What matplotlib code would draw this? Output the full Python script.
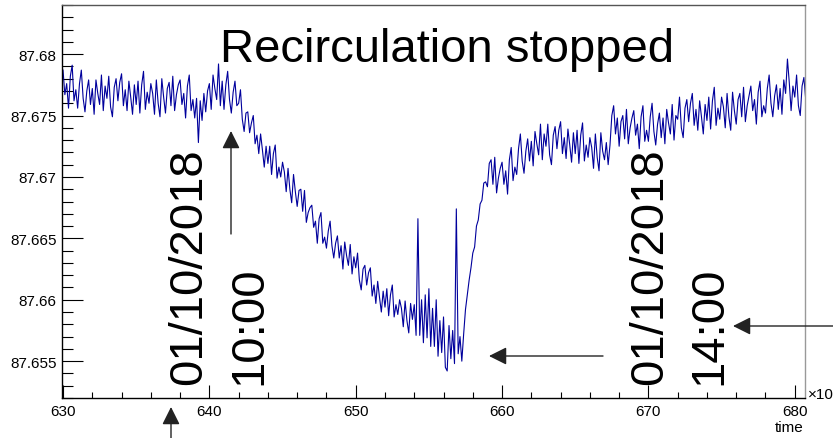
"""
Pressure/temperature reading vs time, showing the dip when recirculation stopped.
"""

import numpy as np
import matplotlib.pyplot as plt
from matplotlib.ticker import MultipleLocator, FuncFormatter

plt.rcParams['font.family'] = ['Liberation Sans', 'DejaVu Sans']

# Sample times (x10^3), one reading every 0.125
time_start = 630.0
time_step = 0.125

# Readings, in units of 1e-4 above 87.65 (eight per time unit)
reading_offset = [
    287, 267, 276, 256, 282, 291, 262, 271,   # 630
    256, 276, 287, 264, 253, 270, 279, 259,   # 631
    272, 251, 279, 268, 259, 283, 254, 274,   # 632
    264, 282, 257, 249, 273, 280, 262, 277,   # 633
    284, 258, 271, 254, 278, 265, 251, 275,   # 634
    259, 278, 252, 275, 286, 255, 269, 260,   # 635
    276, 268, 251, 279, 260, 249, 280, 265,   # 636
    252, 272, 277, 258, 282, 254, 267, 275,   # 637
    279, 259, 268, 248, 274, 283, 254, 263,   # 638
    248, 264, 228, 262, 246, 268, 253, 270,   # 639
    276, 255, 283, 272, 263, 292, 258, 278,   # 640
    255, 275, 286, 263, 252, 269, 278, 258,   # 641
    260, 271, 247, 237, 252, 253, 236, 244,   # 642
    250, 227, 234, 219, 235, 222, 208, 225,   # 643
    211, 225, 202, 219, 226, 199, 208, 200,   # 644
    212, 204, 188, 207, 190, 179, 202, 188,   # 645
    176, 189, 190, 172, 189, 163, 171, 175,   # 646
    177, 159, 164, 146, 166, 171, 146, 151,   # 647
    142, 156, 164, 144, 134, 146, 152, 134,   # 648
    144, 125, 147, 136, 128, 145, 121, 135,   # 649
    126, 138, 116, 108, 125, 128, 112, 122,   # 650
    126, 103, 112, 97, 115, 102, 90, 107,     # 651
    94, 109, 87, 104, 112, 86, 96, 88,        # 652
    100, 93, 78, 99, 83, 73, 97, 84,          # 653
    96, 71, 166, 71, 100, 65, 104, 69,        # 654
    109, 62, 93, 62, 100, 54, 83, 57,         # 655
    86, 45, 42, 79, 52, 75, 48, 174,          # 656
    56, 70, 50, 72, 92, 104, 116, 126,        # 657
    138, 143, 160, 165, 178, 181, 195, 196,   # 658
    192, 211, 214, 194, 216, 187, 199, 207,   # 659
    212, 194, 205, 186, 214, 224, 197, 208,   # 660
    202, 223, 235, 213, 203, 221, 231, 213,   # 661
    229, 209, 237, 227, 218, 243, 214, 235,   # 662
    225, 243, 218, 210, 234, 241, 223, 238,   # 663
    245, 219, 232, 215, 239, 226, 212, 236,   # 664
    219, 238, 211, 234, 244, 213, 226, 216,   # 665
    232, 224, 207, 235, 216, 205, 236, 221,   # 666
    214, 228, 210, 226, 250, 258, 235, 248,   # 667
    225, 245, 250, 231, 255, 227, 240, 248,   # 668
    254, 234, 243, 223, 249, 258, 229, 238,   # 669
    229, 249, 260, 237, 226, 243, 252, 232,   # 670
    248, 227, 255, 244, 235, 259, 230, 250,   # 671
    247, 265, 240, 232, 256, 263, 245, 260,   # 672
    268, 242, 255, 238, 262, 249, 235, 259,   # 673
    246, 265, 239, 262, 273, 242, 256, 247,   # 674
    265, 257, 240, 268, 249, 238, 269, 254,   # 675
    243, 263, 268, 249, 273, 245, 258, 266,   # 676
    274, 254, 263, 243, 269, 278, 249, 258,   # 677
    252, 272, 283, 260, 249, 266, 275, 255,   # 678
    272, 251, 279, 268, 296, 277, 254, 274,   # 679
    265, 283, 258, 250, 274, 281, 263, 278,   # 680
]

reading = 87.65 + np.array(reading_offset) * 1e-4
time = time_start + time_step * np.arange(len(reading))

W, H = 833, 439
fig = plt.figure(figsize=(W / 100, H / 100), dpi=100)
ax = fig.add_axes([62 / W, 1 - 399 / H, (805 - 62) / W, (399 - 6) / H])

ax.plot(time, reading, color="#00009c", linewidth=0.8)

ax.set_xlim(629.93, 680.7)
ax.set_ylim(87.652, 87.684)

# ROOT-like axes: ticks inside, only on left and bottom
ax.xaxis.set_major_locator(MultipleLocator(10))
ax.xaxis.set_minor_locator(MultipleLocator(2))
ax.yaxis.set_major_locator(MultipleLocator(0.005))
ax.yaxis.set_minor_locator(MultipleLocator(0.001))
ax.yaxis.set_major_formatter(FuncFormatter(lambda v, p: f"{v:.3f}".rstrip("0")))
ax.tick_params(axis="x", which="major", direction="in", length=9.5, width=0.8, labelsize=11, pad=4)
ax.tick_params(axis="x", which="minor", direction="in", length=4.5, width=0.8)
ax.tick_params(axis="y", which="major", direction="in", length=15, width=0.8, labelsize=11, pad=4)
ax.tick_params(axis="y", which="minor", direction="in", length=8, width=0.8)

ax.spines["left"].set_color("black")
ax.spines["bottom"].set_color("black")
ax.spines["top"].set_color("#555555")
ax.spines["right"].set_color("#999999")
for s in ax.spines.values():
    s.set_linewidth(1.0)

# Texts
fig.text(220 / W, 1 - 62 / H, "Recirculation stopped", fontsize=34, ha="left", va="baseline")

fig.text(167 / W, 1 - 385 / H, "01/10/2018", fontsize=34, rotation=90, ha="left", va="bottom")
fig.text(227 / W, 1 - 385 / H, "10:00", fontsize=34, rotation=90, ha="left", va="bottom")
fig.text(628 / W, 1 - 385 / H, "01/10/2018", fontsize=34, rotation=90, ha="left", va="bottom")
fig.text(687 / W, 1 - 385 / H, "14:00", fontsize=34, rotation=90, ha="left", va="bottom")

fig.text(808 / W, 1 - 395 / H, "×10", fontsize=11, ha="left", va="center")
fig.text(804 / W, 1 - 428 / H, "time", fontsize=11, ha="right", va="center")

# Arrows (figure pixel positions: tail -> head)
arrows = [
    ((231, 235), (231, 132)),
    ((171, 439), (171, 408)),
    ((603, 357), (489, 357)),
    ((833, 327), (733, 327)),
]
for (x0, y0), (x1, y1) in arrows:
    ax.annotate("", xy=(x1 / W, 1 - y1 / H), xycoords="figure fraction",
                xytext=(x0 / W, 1 - y0 / H), textcoords="figure fraction",
                arrowprops=dict(arrowstyle="-|>", color="#222222", lw=1.0,
                                mutation_scale=27, shrinkA=0, shrinkB=0),
                annotation_clip=False)

fig.savefig("out.png", dpi=100)
